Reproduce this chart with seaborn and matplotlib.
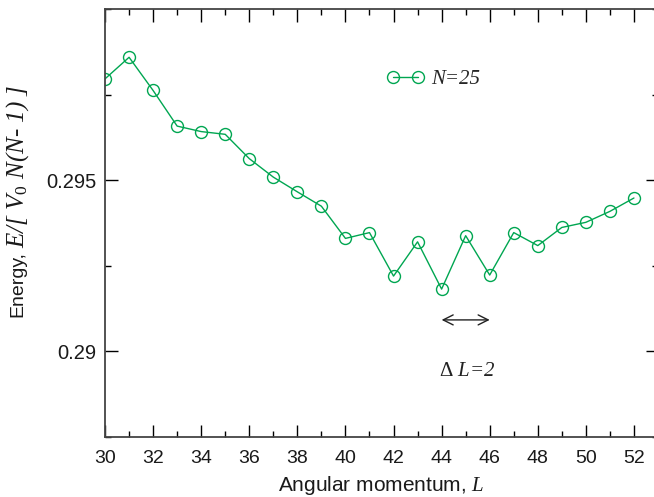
import matplotlib
matplotlib.use("Agg")
import matplotlib.pyplot as plt
import seaborn as sns
import pandas as pd
from matplotlib.ticker import MultipleLocator

# Ground-state energy versus angular momentum for N = 25 particles
L_values = [30, 31, 32, 33, 34, 35, 36, 37, 38, 39, 40, 41,
            42, 43, 44, 45, 46, 47, 48, 49, 50, 51, 52]
energy = [0.29796, 0.29859, 0.29762, 0.29658, 0.29642, 0.29634, 0.29563,
          0.29509, 0.29466, 0.29424, 0.29330, 0.29347, 0.29220, 0.29320,
          0.29182, 0.29338, 0.29223, 0.29347, 0.29309, 0.29362, 0.29377,
          0.29409, 0.29448]
series_label = "N=25"
x_ticks = [30, 32, 34, 36, 38, 40, 42, 44, 46, 48, 50, 52]
y_ticks = [0.29, 0.295]
y_tick_labels = ["0.29", "0.295"]
arrow_span = [44, 46]
arrow_level = 0.29092
delta_text = r"$\mathrm{\Delta}$ L=2"
ylabel_sans = "Energy,"
ylabel_serif = r"E/[ V$_\mathit{0}$ N(N- 1) ]"

sns.set_style("ticks")
plt.rcParams["font.family"] = ["Liberation Sans", "DejaVu Sans"]
plt.rcParams["mathtext.fontset"] = "custom"
plt.rcParams["mathtext.rm"] = "Liberation Serif"
plt.rcParams["mathtext.it"] = "Liberation Serif:italic"

green = "#00A651"
spine_color = "#444444"
text_color = "#1a1a1a"

df = pd.DataFrame({"L": L_values, "E": energy})

fig = plt.figure(figsize=(6.54, 4.97), dpi=100)
ax = fig.add_axes([0.1606, 0.1207, 0.8455, 0.8612])

sns.lineplot(data=df, x="L", y="E", ax=ax, color=green, lw=1.0,
             marker="o", markersize=8.6, markerfacecolor="none",
             markeredgecolor=green, markeredgewidth=1.0,
             label=series_label)

ax.set_xlim(30, 53)
ax.set_ylim(0.2875, 0.300)
ax.set_xticks(x_ticks)
ax.set_xticklabels([str(v) for v in x_ticks])
ax.set_yticks(y_ticks)
ax.set_yticklabels(y_tick_labels)
ax.xaxis.set_minor_locator(MultipleLocator(1))
ax.yaxis.set_minor_locator(MultipleLocator(0.0025))

ax.tick_params(which="both", direction="in", top=True, right=True,
               color="black", width=1.0, labelcolor=text_color)
ax.tick_params(axis="x", labelsize=14, pad=9)
ax.tick_params(axis="y", labelsize=14.5, pad=6)
ax.tick_params(which="major", length=9)
ax.tick_params(which="minor", length=4)

for side in ["left", "right", "top", "bottom"]:
    ax.spines[side].set_color(spine_color)
    ax.spines[side].set_linewidth(1.3)

ax.set_xlabel(r"Angular momentum, $\mathit{L}$", fontsize=15, color=text_color)
ax.xaxis.set_label_coords(0.5, -0.087)
ax.set_ylabel("")

# Y label: sans-serif prefix followed by the serif italic quantity
fig.text(0.0275, (497 - 317) / 497, ylabel_sans, rotation=90, ha="center",
         va="bottom", fontsize=14, color=text_color)
fig.text(0.0275, (497 - 248) / 497, ylabel_serif, rotation=90, ha="center",
         va="bottom", fontsize=18, color=text_color,
         family="Liberation Serif", style="italic")

ax.legend(loc="center left", bbox_to_anchor=(0.5095, 0.836), frameon=False,
          numpoints=2, handlelength=1.8, handletextpad=0.32, borderpad=0,
          borderaxespad=0,
          prop={"family": "Liberation Serif", "style": "italic", "size": 15})

ax.annotate("", xy=(arrow_span[0], arrow_level), xytext=(arrow_span[1], arrow_level),
            arrowprops=dict(arrowstyle="<->", color="#222222", lw=1.0,
                            shrinkA=0, shrinkB=0, mutation_scale=18))
ax.text(45.05, 0.28942, delta_text, ha="center", va="center", fontsize=15,
        color="#222222", family="Liberation Serif", style="italic")

fig.savefig("out.png", dpi=100)
